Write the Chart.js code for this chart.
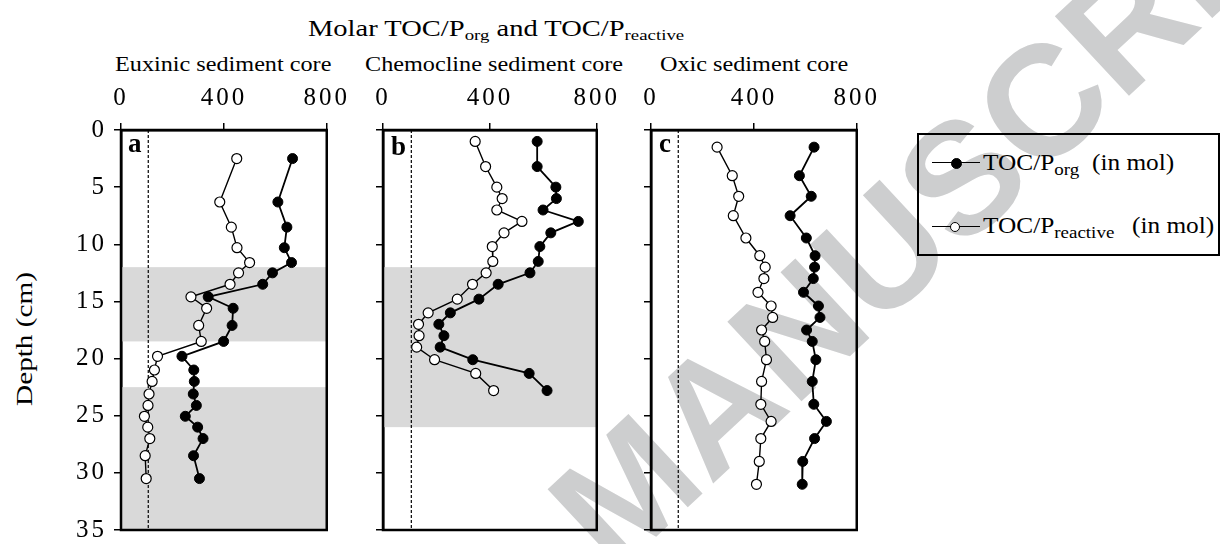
<!DOCTYPE html>
<html>
<head>
<meta charset="utf-8">
<script src="https://cdn.jsdelivr.net/npm/chart.js@4"></script>
<style>
body{margin:0;width:1220px;height:544px;overflow:hidden;background:#fff;position:relative;font-family:"Liberation Serif",serif;color:#000}
canvas{position:absolute;top:0}
.t{position:absolute;line-height:1;white-space:nowrap;transform-origin:0 0}
sub{font-size:0.66em;vertical-align:-0.28em;line-height:0}
.lg sub{font-size:0.75em}
#wm{position:absolute;left:614px;top:442px;font:bold 158px "Liberation Sans",sans-serif;line-height:1;color:#cdcecf;white-space:nowrap;transform-origin:0 134px;transform:rotate(-43deg)}
#legend{position:absolute;left:917px;top:133px;width:303px;height:123px;box-sizing:border-box;border:2.5px solid #000}
.ln{position:absolute;height:0;border-top:1.6px solid #000}
.dot{position:absolute;border-radius:50%;box-sizing:border-box;border:1.2px solid #000}
</style>
</head>
<body>
<div id="wm">MANUSCRIPT</div>

<div class="t" style="left:308px;top:17px;font-size:23px;transform:scaleX(1.24)">Molar TOC/P<sub>org</sub> and TOC/P<sub>reactive</sub></div>
<div class="t" style="left:115px;top:54px;font-size:20px;transform:scaleX(1.21)">Euxinic sediment core</div>
<div class="t" style="left:365px;top:54px;font-size:20px;transform:scaleX(1.21)">Chemocline sediment core</div>
<div class="t" style="left:660px;top:54px;font-size:20px;transform:scaleX(1.21)">Oxic sediment core</div>
<div class="t" style="left:24px;top:339px;font-size:23px;transform-origin:50% 50%;transform:translate(-50%,-50%) rotate(-90deg) scaleX(1.27)">Depth (cm)</div>

<canvas id="ca" width="360" height="564" style="left:0"></canvas>
<canvas id="cb" width="280" height="564" style="left:350px"></canvas>
<canvas id="cc" width="270" height="564" style="left:620px"></canvas>

<div class="t" style="left:128px;top:130px;font-size:27px;font-weight:bold">a</div>
<div class="t" style="left:391px;top:133px;font-size:27px;font-weight:bold">b</div>
<div class="t" style="left:659px;top:130px;font-size:27px;font-weight:bold">c</div>

<div id="legend"></div>
<div class="ln" style="left:932px;top:162px;width:48px"></div>
<div class="dot" style="left:951px;top:158px;width:11px;height:11px;background:#000"></div>
<div class="t lg" style="left:983px;top:151px;font-size:23px;transform:scaleX(1.1)">TOC/P<sub>org</sub></div>
<div class="t lg" style="left:1092px;top:151px;font-size:23px;transform:scaleX(1.1)">(in mol)</div>
<div class="ln" style="left:932px;top:226px;width:48px"></div>
<div class="dot" style="left:950px;top:222px;width:10px;height:10px;background:#fff"></div>
<div class="t lg" style="left:983px;top:214px;font-size:23px;transform:scaleX(1.1)">TOC/P<sub>reactive</sub></div>
<div class="t lg" style="left:1132px;top:214px;font-size:23px;transform:scaleX(1.1)">(in mol)</div>

<script>
const depthA = [2.5, 6.3, 8.5, 10.3, 11.6, 12.5, 13.5, 14.6, 15.6, 17.1, 18.5, 19.8, 21.0, 22.0, 23.1, 24.1, 25.05, 26.0, 27.0, 28.5, 30.5];
const porgA  = [667, 610, 645, 635, 663, 589, 551, 339, 436, 432, 399, 237, 283, 285, 281, 293, 250, 298, 319, 282, 305];
const preacA = [450, 384, 429, 451, 500, 457, 424, 272, 333, 302, 312, 142, 130, 121, 109, 105, 91, 104, 112, 94, 98];

const depthB = [1.0, 3.2, 5.0, 6.0, 7.0, 8.0, 9.0, 10.2, 11.5, 12.5, 13.5, 14.8, 16.0, 17.0, 18.0, 19.0, 20.1, 21.3, 22.8];
const porgB  = [577, 577, 647, 649, 599, 731, 628, 587, 581, 550, 431, 359, 252, 209, 228, 214, 336, 547, 614];
const preacB = [345, 384, 426, 446, 426, 520, 453, 409, 411, 386, 335, 278, 169, 133, 135, 126, 193, 347, 414];

const depthC = [1.5, 4.0, 5.8, 7.5, 9.45, 11.0, 12.0, 13.0, 14.2, 15.4, 16.4, 17.5, 18.5, 20.1, 22.0, 24.0, 25.5, 27.0, 29.0, 31.0];
const porgC  = [634, 577, 623, 541, 604, 638, 636, 631, 593, 651, 657, 605, 627, 641, 627, 633, 682, 636, 590, 588];
const preacC = [257, 316, 341, 320, 369, 423, 444, 439, 416, 467, 473, 430, 442, 449, 430, 427, 467, 427, 421, 410];

// grey depth intervals
const bandsA = [[12, 18.5], [22.5, 35]];
const bandsB = [[12, 26]];
const bandsC = [];

const redfield = 106;
const xTicks = [0, 400, 800];
const yTicks = [0, 5, 10, 15, 20, 25, 30, 35];

const tickFont = { family: '"Liberation Serif", serif', size: 25 };

// the original lettering is stretched sideways, widen the digits a bit
const spacing = {
  id: 'spacing',
  beforeUpdate(c) { c.ctx.letterSpacing = '3px'; },
  beforeDraw(c) { c.ctx.letterSpacing = '3px'; }
};

const panelPlugin = {
  id: 'panel',
  beforeDatasetsDraw(chart, args, opts) {
    const { ctx, chartArea: a, scales: { y } } = chart;
    ctx.save();
    ctx.fillStyle = '#d9d9d9';
    opts.bands.forEach(b => {
      const y0 = y.getPixelForValue(b[0]);
      const y1 = y.getPixelForValue(b[1]);
      ctx.fillRect(a.left, y0, a.right - a.left, y1 - y0);
    });
    ctx.restore();
  },
  afterDraw(chart) {
    const { ctx, chartArea: a } = chart;
    ctx.save();
    ctx.strokeStyle = '#000';
    ctx.lineWidth = 2.5;
    ctx.strokeRect(a.left, a.top, a.right - a.left, a.bottom - a.top);
    ctx.restore();
  }
};

function panel(id, depth, porg, preac, bands, yWidth, padRight, showY) {
  new Chart(document.getElementById(id), {
    type: 'scatter',
    data: {
      datasets: [
        {
          data: depth.map((d, i) => ({ x: porg[i], y: d })),
          showLine: true, borderColor: '#000', borderWidth: 1.8,
          pointRadius: 5, pointBackgroundColor: '#000', pointBorderColor: '#000', pointBorderWidth: 1
        },
        {
          data: depth.map((d, i) => ({ x: preac[i], y: d })),
          showLine: true, borderColor: '#000', borderWidth: 1.4,
          pointRadius: 5, pointBackgroundColor: '#fff', pointBorderColor: '#000', pointBorderWidth: 1.2
        },
        {
          data: [{ x: redfield, y: 0 }, { x: redfield, y: 35 }],
          showLine: true, borderColor: '#000', borderWidth: 1.2, borderDash: [3, 2], pointRadius: 0
        }
      ]
    },
    options: {
      responsive: false,
      animation: false,
      events: [],
      layout: { padding: { top: 0, right: padRight, bottom: 34, left: 0 } },
      plugins: { legend: { display: false }, tooltip: { enabled: false }, panel: { bands: bands } },
      scales: {
        x: {
          type: 'linear', position: 'top', min: 0, max: 800,
          afterBuildTicks: s => { s.ticks = xTicks.map(v => ({ value: v })); },
          afterFit: s => { s.height = 130; },
          ticks: { font: tickFont, color: '#000', padding: 10, maxRotation: 0 },
          grid: { drawOnChartArea: false, drawTicks: true, tickLength: 7, color: '#000', lineWidth: 1.5 },
          border: { color: '#000', width: 2.5 }
        },
        y: {
          type: 'linear', reverse: true, min: 0, max: 35,
          afterBuildTicks: s => { s.ticks = yTicks.map(v => ({ value: v })); },
          afterFit: s => { s.width = yWidth; },
          ticks: { display: showY, font: tickFont, color: '#000', padding: 7 },
          grid: { drawOnChartArea: false, drawTicks: true, tickLength: 7, color: '#000', lineWidth: 1.5 },
          border: { color: '#000', width: 2.5 }
        }
      }
    },
    plugins: [spacing, panelPlugin]
  });
}

panel('ca', depthA, porgA, preacA, bandsA, 121, 29, true);
panel('cb', depthB, porgB, preacB, bandsB, 33, 33, false);
panel('cc', depthC, porgC, preacC, bandsC, 31, 28, false);
</script>
</body>
</html>
